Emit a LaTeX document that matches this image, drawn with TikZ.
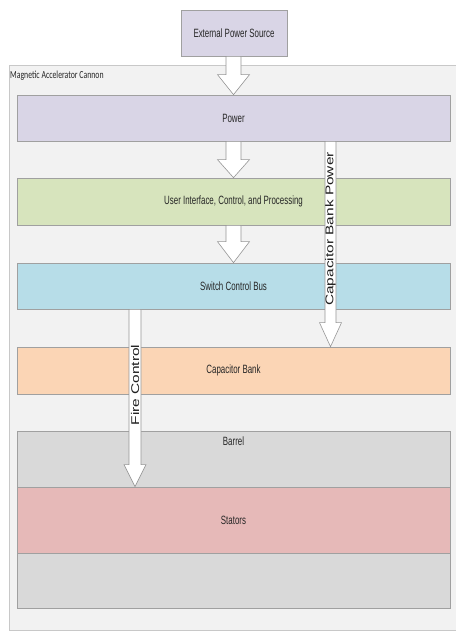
\documentclass[tikz,border=0pt]{standalone}
\usepackage{fontspec}
\usepackage{tikz}
\usetikzlibrary{calc}
\newfontfamily\boxfont[FakeStretch=0.66]{Liberation Sans}
\newfontfamily\titlefont[FakeStretch=0.72]{Carlito}
\newfontfamily\arrowfont[FakeStretch=1.38]{Liberation Sans}

\tikzset{
  layer/.style={draw={rgb, 255:red, 160; green, 160; blue, 160}, line width=0.7pt, minimum width=433pt, minimum height=46pt, inner sep=0pt, text={rgb, 255:red, 38; green, 38; blue, 38}, font=\boxfont\fontsize{12}{14}\selectfont},
  container/.style={draw={rgb, 255:red, 200; green, 200; blue, 200}, line width=0.8pt, fill={rgb, 255:red, 242; green, 242; blue, 242}, inner sep=0pt},
  bigarrow/.style={draw={rgb, 255:red, 150; green, 150; blue, 150}, line width=0.6pt, fill=white, line join=miter},
  arrowlbl/.style={inner sep=0pt, rotate=90, text={rgb, 255:red, 30; green, 30; blue, 30}, font=\arrowfont\fontsize{11.2}{13}\selectfont},
  boxlbl/.style={inner sep=0pt, text={rgb, 255:red, 38; green, 38; blue, 38}, font=\boxfont\fontsize{12}{14}\selectfont}
}

% block arrow: from, to, half shaft, half head, head length
\newcommand{\blockarrow}[5]{%
  \draw[bigarrow] let \p1=(#1), \p2=(#2) in
    (\x1-#3,\y1) -- (\x1+#3,\y1) -- (\x1+#3,\y2-#5) -- (\x1+#4,\y2-#5)
    -- (\x2,\y2) -- (\x1-#4,\y2-#5) -- (\x1-#3,\y2-#5) -- cycle;}

\begin{document}
\begin{tikzpicture}[x=1pt,y=1pt,yscale=-1,xscale=1]
\useasboundingbox (0,0) rectangle (455,631);

%Shape: Container [id:mac]
\node[container, minimum width=449pt, minimum height=565pt] (mac) at (233.5,347.5) {};
\node[boxlbl, anchor=west, font=\titlefont\fontsize{10.8}{13}\selectfont] (mactitle) at (10,76) {Magnetic Accelerator Cannon};

%Shape: Rectangle [id:ext]
\node[layer, fill={rgb, 255:red, 217; green, 213; blue, 230}, minimum width=106pt] (ext) at (234,33) {External Power Source};

%Shape: Rectangle [id:power]
\node[layer, fill={rgb, 255:red, 217; green, 213; blue, 230}] (power) at (233.5,118) {Power};
%Shape: Rectangle [id:ui]
\node[layer, fill={rgb, 255:red, 215; green, 228; blue, 189}, minimum height=47pt] (ui) at (233.5,201.5) {User Interface, Control, and Processing};
%Shape: Rectangle [id:switch]
\node[layer, fill={rgb, 255:red, 183; green, 221; blue, 232}] (switch) at (233.5,286) {Switch Control Bus};
%Shape: Rectangle [id:cap]
\node[layer, fill={rgb, 255:red, 251; green, 213; blue, 181}, minimum height=47pt] (cap) at (233.5,370.5) {Capacitor Bank};
%Shape: Rectangle [id:barrel]
\node[layer, fill={rgb, 255:red, 217; green, 217; blue, 217}, minimum height=177pt] (barrel) at (233.5,519.5) {};
\node[boxlbl, anchor=north] (barrellbl) at ([yshift=5.5pt]barrel.north) {Barrel};
%Shape: Rectangle [id:stators]
\node[layer, fill={rgb, 255:red, 230; green, 185; blue, 184}, minimum height=66pt] (stators) at (233.5,520) {Stators};

%Arrows
\coordinate (xmain) at (233.5,0);
\coordinate (xcbp) at (330.5,0);
\coordinate (xfire) at (135,0);
\blockarrow{ext.south -| xmain}{power.north -| xmain}{7.5pt}{16pt}{20pt}
\blockarrow{power.south -| xmain}{ui.north -| xmain}{7.5pt}{16pt}{18pt}
\blockarrow{ui.south -| xmain}{switch.north -| xmain}{7.5pt}{16pt}{21pt}
\blockarrow{power.south -| xcbp}{cap.north -| xcbp}{5.5pt}{11pt}{24pt}
\blockarrow{switch.south -| xfire}{stators.north -| xfire}{6pt}{11pt}{22pt}

\node[arrowlbl] (cbplbl) at (330.5,229) {Capacitor Bank Power};
\node[arrowlbl] (firelbl) at (135,385) {Fire Control};

\end{tikzpicture}
\end{document}
